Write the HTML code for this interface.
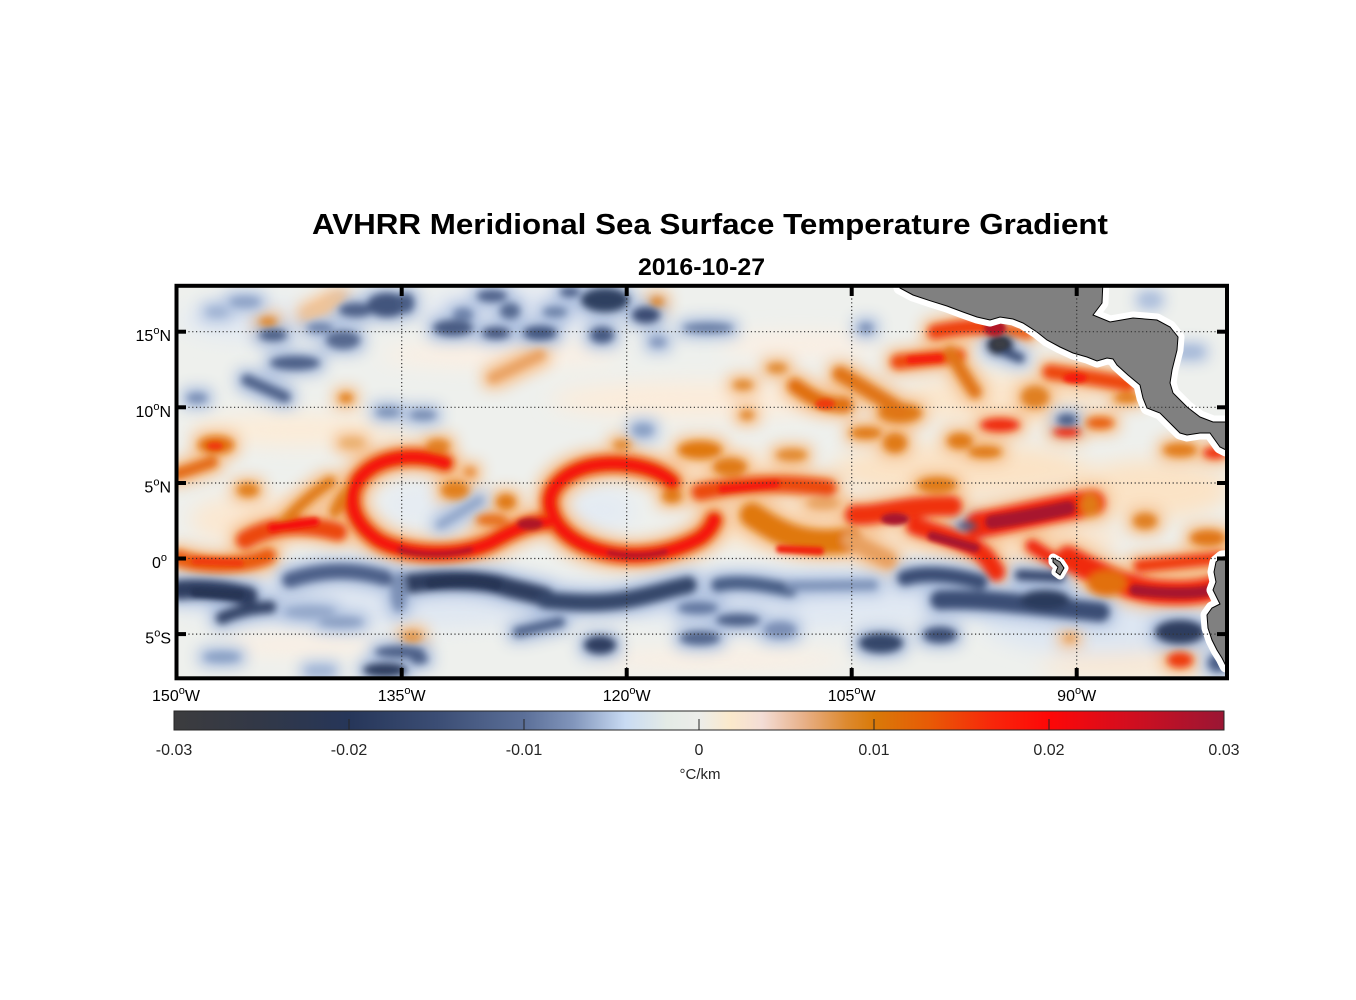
<!DOCTYPE html>
<html><head><meta charset="utf-8"><style>
html,body{margin:0;padding:0;background:#fff;}
svg{display:block;font-family:"Liberation Sans",Arial,sans-serif;}
</style></head><body>
<svg width="1356" height="1000" viewBox="0 0 1356 1000" xmlns="http://www.w3.org/2000/svg">
<defs>
<clipPath id="mc"><rect x="176.5" y="285.8" width="1050.5" height="392.5"/></clipPath>
<filter id="fp" filterUnits="userSpaceOnUse" x="100" y="220" width="1200" height="520"><feGaussianBlur stdDeviation="10"/></filter>
<filter id="fb3" filterUnits="userSpaceOnUse" x="150" y="260" width="1110" height="450"><feGaussianBlur stdDeviation="3.6"/></filter>
<filter id="fb2" filterUnits="userSpaceOnUse" x="150" y="260" width="1110" height="450"><feGaussianBlur stdDeviation="2"/></filter>
<filter id="hw" filterUnits="userSpaceOnUse" x="150" y="260" width="1110" height="450" color-interpolation-filters="sRGB">
<feMorphology in="SourceAlpha" operator="dilate" radius="6" result="d"/>
<feGaussianBlur in="d" stdDeviation="7" result="b"/>
<feFlood flood-color="#f5c190"/>
<feComposite in2="b" operator="in"/>
</filter>
<filter id="hc" filterUnits="userSpaceOnUse" x="150" y="260" width="1110" height="450" color-interpolation-filters="sRGB">
<feMorphology in="SourceAlpha" operator="dilate" radius="6" result="d"/>
<feGaussianBlur in="d" stdDeviation="7" result="b"/>
<feFlood flood-color="#aec0de"/>
<feComposite in2="b" operator="in"/>
</filter>
<linearGradient id="cb" x1="0" x2="1" y1="0" y2="0">
<stop offset="0" stop-color="#3c3c3e"/>
<stop offset="0.08" stop-color="#323847"/>
<stop offset="0.1667" stop-color="#263659"/>
<stop offset="0.25" stop-color="#3b4d74"/>
<stop offset="0.3333" stop-color="#5b6f98"/>
<stop offset="0.38" stop-color="#8195bb"/>
<stop offset="0.43" stop-color="#c9dbf3"/>
<stop offset="0.47" stop-color="#e4ebe6"/>
<stop offset="0.5" stop-color="#ecedea"/>
<stop offset="0.53" stop-color="#fbe9cb"/>
<stop offset="0.56" stop-color="#f3ddd6"/>
<stop offset="0.6" stop-color="#e8b088"/>
<stop offset="0.64" stop-color="#dd8a30"/>
<stop offset="0.6667" stop-color="#d97a08"/>
<stop offset="0.72" stop-color="#e85a06"/>
<stop offset="0.78" stop-color="#f8260a"/>
<stop offset="0.8333" stop-color="#fe0707"/>
<stop offset="0.9" stop-color="#d80d1c"/>
<stop offset="1" stop-color="#9a1634"/>
</linearGradient>

<g id="warm" fill="none" stroke-linecap="round" stroke-linejoin="round">
<path d="M 178 558 C 200 566, 240 568, 268 556" stroke="#ea5a0c" stroke-width="16"/>
<path d="M 176 474 C 190 470, 200 466, 212 462" stroke="#e46c12" stroke-width="12"/>
<ellipse cx="216" cy="445" rx="18" ry="9" fill="#e2700f"/>
<ellipse cx="248" cy="490" rx="11" ry="7" fill="#e2801e"/>
<path d="M 245 540 C 265 528, 295 520, 338 532" stroke="#ec460a" stroke-width="18"/>
<path d="M 282 524 C 295 510, 310 495, 330 482" stroke="#e07a14" stroke-width="11"/>
<path d="M 445 463 C 415 452, 378 456, 360 478 C 345 498, 352 522, 378 540 C 405 556, 460 558, 492 542 C 510 532, 528 522, 548 522" stroke="#ec4e0a" stroke-width="19"/>
<ellipse cx="455" cy="490" rx="14" ry="9" fill="#e2801c"/>
<ellipse cx="436" cy="446" rx="7" ry="6" fill="#e48a2a"/>
<ellipse cx="470" cy="472" rx="6" ry="5" fill="#e89040"/>
<ellipse cx="506" cy="502" rx="10" ry="8" fill="#e07a18"/>
<ellipse cx="492" cy="520" rx="16" ry="6" fill="#e6701a"/>
<path d="M 335 512 C 340 500, 345 492, 352 488" stroke="#e07a14" stroke-width="11"/>
<path d="M 672 482 C 655 466, 620 460, 590 466 C 565 472, 548 488, 550 505 C 553 528, 575 545, 605 552 C 640 560, 675 552, 700 538 C 708 532, 712 526, 714 520" stroke="#ec4e0a" stroke-width="19"/>
<ellipse cx="672" cy="496" rx="10" ry="7" fill="#e07a18"/>
<ellipse cx="700" cy="450" rx="22" ry="9" fill="#e0780f"/>
<ellipse cx="730" cy="467" rx="17" ry="9" fill="#e07a14"/>
<path d="M 700 492 C 730 486, 770 480, 828 488" stroke="#ec4a0a" stroke-width="17"/>
<ellipse cx="792" cy="455" rx="15" ry="6" fill="#e38a2c"/>
<path d="M 752 515 C 775 530, 800 548, 850 540" stroke="#e0780f" stroke-width="24"/>
<path d="M 850 540 C 865 548, 878 555, 888 560" stroke="#e8a060" stroke-width="16"/>
<ellipse cx="823" cy="503" rx="16" ry="6" fill="#e8a464"/>
<path d="M 855 515 C 880 516, 905 505, 952 506" stroke="#f0300a" stroke-width="20"/>
<path d="M 915 526 C 940 534, 962 540, 978 550 C 988 557, 992 566, 996 572" stroke="#f02a0a" stroke-width="18"/>
<path d="M 978 525 C 1010 520, 1045 510, 1092 503" stroke="#f0280a" stroke-width="26"/>
<path d="M 1032 546 L 1060 564" stroke="#f0280a" stroke-width="13"/>
<path d="M 1068 558 C 1100 575, 1130 590, 1160 592 C 1185 594, 1205 592, 1220 586" stroke="#f02a0a" stroke-width="24"/>
<path d="M 1140 566 L 1220 558" stroke="#f03a08" stroke-width="13"/>
<ellipse cx="1107" cy="583" rx="20" ry="13" fill="#e27010"/>
<ellipse cx="1090" cy="505" rx="10" ry="12" fill="#e07a18"/>
<ellipse cx="1145" cy="521" rx="12" ry="8" fill="#e08020"/>
<ellipse cx="1208" cy="538" rx="18" ry="8" fill="#e07616"/>
<path d="M 935 332 C 955 328, 975 325, 995 328" stroke="#ee400a" stroke-width="15"/>
<path d="M 1008 330 L 1028 334" stroke="#ee5a0a" stroke-width="10"/>
<path d="M 898 362 C 915 360, 935 358, 958 356" stroke="#ee4a0a" stroke-width="15"/>
<path d="M 950 352 C 958 365, 965 378, 975 392" stroke="#e07412" stroke-width="13"/>
<ellipse cx="900" cy="413" rx="22" ry="10" fill="#e07a18"/>
<path d="M 1050 372 C 1070 375, 1090 377, 1128 384" stroke="#ee460a" stroke-width="15"/>
<ellipse cx="1035" cy="397" rx="14" ry="11" fill="#e08020"/>
<ellipse cx="1000" cy="425" rx="20" ry="7" fill="#f02a08"/>
<ellipse cx="1067" cy="432" rx="14" ry="5" fill="#f02a08"/>
<ellipse cx="1100" cy="423" rx="14" ry="6" fill="#e8600e"/>
<ellipse cx="1127" cy="398" rx="13" ry="5" fill="#e07a18"/>
<ellipse cx="960" cy="441" rx="13" ry="8" fill="#e07a18"/>
<ellipse cx="985" cy="452" rx="17" ry="6" fill="#e07a18"/>
<ellipse cx="1180" cy="450" rx="17" ry="7" fill="#e27e1e"/>
<ellipse cx="1215" cy="453" rx="12" ry="6" fill="#f03008"/>
<ellipse cx="866" cy="433" rx="16" ry="6" fill="#e07a18"/>
<ellipse cx="895" cy="443" rx="12" ry="10" fill="#e07a18"/>
<ellipse cx="937" cy="485" rx="20" ry="8" fill="#e07a18"/>
<path d="M 493 378 C 510 370, 525 362, 540 355" stroke="#e9a264" stroke-width="10"/>
<ellipse cx="743" cy="385" rx="10" ry="5" fill="#e08a30"/>
<ellipse cx="777" cy="368" rx="10" ry="5" fill="#e08a30"/>
<path d="M 795 386 C 808 395, 820 405, 845 405" stroke="#e06e10" stroke-width="15"/>
<path d="M 840 374 C 860 385, 880 398, 900 410" stroke="#e07412" stroke-width="15"/>
<ellipse cx="747" cy="415" rx="7" ry="5" fill="#e28a30"/>
<ellipse cx="438" cy="446" rx="12" ry="7" fill="#e28020"/>
<ellipse cx="622" cy="445" rx="9" ry="5" fill="#e28a30"/>
<ellipse cx="788" cy="455" rx="12" ry="5" fill="#e28a30"/>
<ellipse cx="657" cy="302" rx="7" ry="5" fill="#e08a30"/>
<ellipse cx="268" cy="322" rx="9" ry="5" fill="#e08a30"/>
<path d="M 307 315 L 340 298" stroke="#edc49a" stroke-width="8"/>
<ellipse cx="346" cy="398" rx="7" ry="5" fill="#e2801a"/>
<ellipse cx="352" cy="443" rx="12" ry="5" fill="#eab070"/>
<ellipse cx="412" cy="637" rx="10" ry="6" fill="#e29a50"/>
<ellipse cx="1180" cy="660" rx="13" ry="8" fill="#ee3a08"/>
<ellipse cx="1070" cy="638" rx="6" ry="4" fill="#e2a060"/>
</g>

<g id="cool" fill="none" stroke-linecap="round" stroke-linejoin="round">
<ellipse cx="245" cy="302" rx="15" ry="5" fill="#8ea3c6"/>
<ellipse cx="217" cy="312" rx="10" ry="4" fill="#a0b3d2"/>
<ellipse cx="273" cy="335" rx="14" ry="6" fill="#4b5e86"/>
<ellipse cx="320" cy="328" rx="13" ry="5" fill="#6f84ab"/>
<ellipse cx="343" cy="340" rx="17" ry="9" fill="#56698f"/>
<ellipse cx="356" cy="310" rx="17" ry="7" fill="#4f6289"/>
<ellipse cx="387" cy="305" rx="20" ry="12" fill="#42557d"/>
<ellipse cx="295" cy="363" rx="25" ry="7" fill="#4d6088"/>
<path d="M 247 380 L 285 397" stroke="#4f6289" stroke-width="11"/>
<ellipse cx="197" cy="398" rx="10" ry="5" fill="#7a8fb5"/>
<ellipse cx="388" cy="412" rx="12" ry="5" fill="#7f94b8"/>
<ellipse cx="406" cy="303" rx="8" ry="10" fill="#4a5d85"/>
<ellipse cx="492" cy="296" rx="15" ry="6" fill="#4f628a"/>
<ellipse cx="510" cy="311" rx="10" ry="8" fill="#566a91"/>
<ellipse cx="453" cy="328" rx="20" ry="8" fill="#485b83"/>
<ellipse cx="463" cy="315" rx="10" ry="7" fill="#6e83aa"/>
<ellipse cx="496" cy="333" rx="14" ry="6" fill="#465980"/>
<ellipse cx="540" cy="333" rx="17" ry="7" fill="#435780"/>
<ellipse cx="555" cy="312" rx="12" ry="5" fill="#6d82a8"/>
<ellipse cx="570" cy="292" rx="10" ry="5" fill="#4f628a"/>
<ellipse cx="605" cy="300" rx="24" ry="12" fill="#2f3f60"/>
<ellipse cx="602" cy="335" rx="12" ry="8" fill="#465a82"/>
<ellipse cx="646" cy="315" rx="14" ry="8" fill="#3a4c72"/>
<ellipse cx="708" cy="328" rx="25" ry="5" fill="#6a7fa5"/>
<ellipse cx="658" cy="342" rx="8" ry="5" fill="#8699bd"/>
<ellipse cx="866" cy="328" rx="7" ry="5" fill="#7f93b8"/>
<ellipse cx="423" cy="415" rx="13" ry="5" fill="#7a8fb4"/>
<ellipse cx="643" cy="430" rx="10" ry="6" fill="#8aa0c4"/>
<ellipse cx="1000" cy="345" rx="13" ry="10" fill="#2a3042"/>
<path d="M 1005 352 L 1020 358" stroke="#3b4d75" stroke-width="9"/>
<ellipse cx="1067" cy="420" rx="10" ry="6" fill="#4b5f87"/>
<ellipse cx="967" cy="526" rx="10" ry="4" fill="#4b5f87"/>
<path d="M 440 525 L 480 500" stroke="#8aa0c4" stroke-width="6"/>
<ellipse cx="1190" cy="352" rx="12" ry="4" fill="#a9bbd8"/>
<ellipse cx="1150" cy="300" rx="8" ry="4" fill="#b0c1dc"/>
<path d="M 178 590 C 200 588, 225 590, 248 596" stroke="#2f3e61" stroke-width="19"/>
<path d="M 290 580 C 320 570, 350 568, 385 578" stroke="#4d6189" stroke-width="15"/>
<path d="M 222 618 C 235 612, 250 608, 270 607" stroke="#344568" stroke-width="12"/>
<path d="M 400 585 C 430 580, 470 578, 500 585 C 515 590, 530 592, 545 597" stroke="#2e3d5f" stroke-width="19"/>
<path d="M 545 600 C 575 603, 600 604, 625 600 C 645 597, 665 590, 688 585" stroke="#34466b" stroke-width="17"/>
<path d="M 718 585 C 740 580, 765 585, 790 590" stroke="#4a5e86" stroke-width="13"/>
<path d="M 790 586 L 873 585" stroke="#7d92b7" stroke-width="9"/>
<path d="M 905 578 C 925 572, 950 574, 980 582" stroke="#3b4d74" stroke-width="15"/>
<path d="M 940 600 C 980 598, 1030 605, 1100 612" stroke="#3b4d74" stroke-width="19"/>
<ellipse cx="1045" cy="600" rx="25" ry="10" fill="#2c3a5c"/>
<path d="M 1020 575 L 1060 577" stroke="#34456a" stroke-width="10"/>
<ellipse cx="1180" cy="632" rx="25" ry="12" fill="#2f3d5e"/>
<ellipse cx="1218" cy="663" rx="10" ry="9" fill="#4b5f87"/>
<path d="M 518 632 L 560 622" stroke="#50648b" stroke-width="10"/>
<ellipse cx="600" cy="645" rx="16" ry="9" fill="#2f3e60"/>
<ellipse cx="400" cy="652" rx="25" ry="6" fill="#4d6188"/>
<ellipse cx="385" cy="670" rx="22" ry="7" fill="#2d3c5e"/>
<ellipse cx="419" cy="659" rx="9" ry="5" fill="#4d6188"/>
<ellipse cx="698" cy="608" rx="20" ry="6" fill="#6378a0"/>
<ellipse cx="738" cy="620" rx="22" ry="6" fill="#4c5f86"/>
<ellipse cx="700" cy="638" rx="20" ry="7" fill="#52668d"/>
<ellipse cx="780" cy="630" rx="16" ry="8" fill="#7b8fb5"/>
<ellipse cx="881" cy="643" rx="22" ry="10" fill="#34466b"/>
<ellipse cx="940" cy="635" rx="17" ry="8" fill="#3d4f76"/>
<ellipse cx="399" cy="592" rx="8" ry="20" fill="#7b90b6"/>
<ellipse cx="341" cy="622" rx="22" ry="5" fill="#8ca0c3"/>
<ellipse cx="222" cy="657" rx="18" ry="5" fill="#8aa0c4"/>
<ellipse cx="310" cy="612" rx="25" ry="6" fill="#95a9ca"/>
<ellipse cx="320" cy="671" rx="14" ry="4" fill="#a3b6d4"/>
</g>

<g id="cores" fill="none" stroke-linecap="round" stroke-linejoin="round">
<path d="M 445 463 C 415 452, 378 456, 360 478 C 345 498, 352 522, 378 540 C 405 556, 460 558, 492 542 C 510 532, 528 522, 548 522" stroke="#f5180a" stroke-width="9"/>
<path d="M 672 482 C 655 466, 620 460, 590 466 C 565 472, 548 488, 550 505 C 553 528, 575 545, 605 552 C 640 560, 675 552, 700 538 C 708 532, 712 526, 714 520" stroke="#f5180a" stroke-width="9"/>
<path d="M 272 528 L 315 522" stroke="#f5100a" stroke-width="8"/>
<path d="M 400 550 C 420 556, 450 555, 470 550" stroke="#b81428" stroke-width="6"/>
<ellipse cx="530" cy="524" rx="13" ry="6" fill="#b01428"/>
<path d="M 610 553 C 630 557, 650 556, 665 552" stroke="#b81428" stroke-width="6"/>
<path d="M 722 489 L 776 484" stroke="#f51808" stroke-width="7"/>
<path d="M 780 549 L 820 551" stroke="#f02008" stroke-width="8"/>
<ellipse cx="895" cy="519" rx="14" ry="6" fill="#a8132e"/>
<path d="M 932 536 L 975 548" stroke="#a8132e" stroke-width="9"/>
<path d="M 992 522 C 1020 518, 1045 513, 1068 508" stroke="#a8132e" stroke-width="14"/>
<path d="M 1135 590 C 1165 594, 1195 594, 1212 590" stroke="#a8132e" stroke-width="11"/>
<ellipse cx="995" cy="328" rx="11" ry="8" fill="#b01428"/>
<path d="M 910 360 L 940 358" stroke="#f51a08" stroke-width="7"/>
<ellipse cx="1075" cy="378" rx="12" ry="5" fill="#f51a08"/>
<ellipse cx="825" cy="404" rx="10" ry="5" fill="#ee3a08"/>
<ellipse cx="215" cy="446" rx="8" ry="4" fill="#f03a08"/>
<path d="M 195 561 L 240 563" stroke="#f03a0a" stroke-width="7"/>
<path d="M 195 592 L 240 595" stroke="#263455" stroke-width="9"/>
<path d="M 430 583 C 455 580, 480 580, 497 585" stroke="#263455" stroke-width="9"/>
<ellipse cx="1000" cy="344" rx="8" ry="6" fill="#3a3d45"/>
</g>

<path id="land1" d="M 898 280 L 900 288 L 913 295 L 930 300.7 L 947 306 L 963 312 L 977 317 L 990 320 L 1000 317 L 1013 319 L 1023 323 L 1037 332 L 1047 340 L 1060 347 L 1073 353 L 1087 357 L 1097 361 L 1107 358 L 1113 359 L 1117 365 L 1128 375 L 1140 385 L 1143 398 L 1147 408 L 1160 413 L 1170 423 L 1180 433 L 1187 435 L 1200 433 L 1210 433 L 1215 440 L 1220 447 L 1226 450 L 1235 450 L 1235 421 L 1225 422 L 1213 422 L 1200 417 L 1187 407 L 1173 393 L 1170 383 L 1172 370 L 1177 350 L 1178 337 L 1170 327 L 1157 320 L 1133 318 L 1110 322 L 1093 315 L 1102 303 L 1103 280 Z"/>
<path id="land2" d="M 1235 556 L 1222 557 L 1216 562 L 1214 572 L 1216 582 L 1213 590 L 1217 598 L 1220 604 L 1212 608 L 1207 615 L 1208 628 L 1212 640 L 1217 650 L 1222 658 L 1226 666 L 1235 668 Z"/>
<path id="land3" d="M 1053 558 L 1060 562 L 1064 568 L 1060 575 L 1056 572 L 1058 567 L 1053 562 Z"/>
</defs>

<text x="710" y="234" text-anchor="middle" font-size="29" font-weight="bold" fill="#000" textLength="796" lengthAdjust="spacingAndGlyphs">AVHRR Meridional Sea Surface Temperature Gradient</text>
<text x="701.5" y="275" text-anchor="middle" font-size="24" font-weight="bold" fill="#000" textLength="127" lengthAdjust="spacingAndGlyphs">2016-10-27</text>

<g clip-path="url(#mc)">
<rect x="170" y="280" width="1065" height="405" fill="#eef0ed"/>
<g filter="url(#fp)">
<ellipse cx="300" cy="430" rx="110" ry="16" fill="#fcecd8"/>
<ellipse cx="700" cy="400" rx="150" ry="18" fill="#fcecda"/>
<ellipse cx="960" cy="470" rx="130" ry="28" fill="#fbe3c6"/>
<ellipse cx="1150" cy="490" rx="80" ry="30" fill="#fbe3c6"/>
<ellipse cx="1000" cy="540" rx="120" ry="20" fill="#fbe4ca"/>
<ellipse cx="800" cy="525" rx="100" ry="25" fill="#fbe6cc"/>
<ellipse cx="720" cy="470" rx="80" ry="18" fill="#fbe8d2"/>
<ellipse cx="500" cy="355" rx="120" ry="12" fill="#fcefe2"/>
<ellipse cx="800" cy="345" rx="80" ry="12" fill="#fcefe2"/>
<ellipse cx="300" cy="645" rx="80" ry="10" fill="#fcefe2"/>
<ellipse cx="720" cy="660" rx="130" ry="10" fill="#fcefe2"/>
<ellipse cx="1120" cy="665" rx="80" ry="12" fill="#fbe8d2"/>
<ellipse cx="1000" cy="400" rx="100" ry="25" fill="#fbe6cc"/>
<ellipse cx="250" cy="520" rx="60" ry="25" fill="#fbe8d2"/>
<ellipse cx="400" cy="600" rx="230" ry="28" fill="#dfe7f2"/>
<ellipse cx="800" cy="600" rx="200" ry="30" fill="#e0e8f3"/>
<ellipse cx="1100" cy="620" rx="120" ry="35" fill="#dde6f2"/>
<ellipse cx="250" cy="320" rx="70" ry="20" fill="#e2e9f3"/>
<ellipse cx="600" cy="510" rx="35" ry="22" fill="#e4ebf3"/>
<ellipse cx="420" cy="505" rx="40" ry="25" fill="#e6ecf2"/>
<ellipse cx="520" cy="310" rx="100" ry="25" fill="#e3e9f3"/>
</g>
<use href="#warm" filter="url(#hw)"/>
<use href="#cool" filter="url(#hc)"/>
<use href="#warm" filter="url(#fb3)"/>
<use href="#cool" filter="url(#fb3)"/>
<use href="#cores" filter="url(#fb2)"/>

<use href="#land1" fill="#fff" stroke="#fff" stroke-width="13" stroke-linejoin="round"/>
<use href="#land2" fill="#fff" stroke="#fff" stroke-width="13" stroke-linejoin="round"/>
<use href="#land3" fill="#fff" stroke="#fff" stroke-width="9" stroke-linejoin="round"/>
<use href="#land1" fill="#808080" stroke="#000" stroke-width="1"/>
<use href="#land2" fill="#808080" stroke="#000" stroke-width="1"/>
<use href="#land3" fill="#808080" stroke="#000" stroke-width="1"/>
</g>

<g stroke="#333" stroke-width="1.2" stroke-dasharray="1.2 2.6" fill="none">
<line x1="177" y1="331.7" x2="1226" y2="331.7"/>
<line x1="177" y1="407.3" x2="1226" y2="407.3"/>
<line x1="177" y1="483" x2="1226" y2="483"/>
<line x1="177" y1="558.5" x2="1226" y2="558.5"/>
<line x1="177" y1="634.1" x2="1226" y2="634.1"/>
<line x1="401.7" y1="287" x2="401.7" y2="677"/>
<line x1="626.7" y1="287" x2="626.7" y2="677"/>
<line x1="851.7" y1="287" x2="851.7" y2="677"/>
<line x1="1076.7" y1="287" x2="1076.7" y2="677"/>
</g>

<rect x="176.5" y="285.8" width="1050.5" height="392.5" fill="none" stroke="#000" stroke-width="4"/>
<g stroke="#000" stroke-width="4">
<line x1="176" y1="331.7" x2="186" y2="331.7"/>
<line x1="176" y1="407.3" x2="186" y2="407.3"/>
<line x1="176" y1="483" x2="186" y2="483"/>
<line x1="176" y1="558.5" x2="186" y2="558.5"/>
<line x1="176" y1="634.1" x2="186" y2="634.1"/>
<line x1="1217" y1="331.7" x2="1227" y2="331.7"/>
<line x1="1217" y1="407.3" x2="1227" y2="407.3"/>
<line x1="1217" y1="483" x2="1227" y2="483"/>
<line x1="1217" y1="558.5" x2="1227" y2="558.5"/>
<line x1="1217" y1="634.1" x2="1227" y2="634.1"/>
<line x1="401.7" y1="286" x2="401.7" y2="296"/>
<line x1="626.7" y1="286" x2="626.7" y2="296"/>
<line x1="851.7" y1="286" x2="851.7" y2="296"/>
<line x1="1076.7" y1="286" x2="1076.7" y2="296"/>
<line x1="401.7" y1="668" x2="401.7" y2="678"/>
<line x1="626.7" y1="668" x2="626.7" y2="678"/>
<line x1="851.7" y1="668" x2="851.7" y2="678"/>
<line x1="1076.7" y1="668" x2="1076.7" y2="678"/>
</g>

<g font-size="16" fill="#000">
<text x="171" y="341.2" text-anchor="end">15<tspan font-size="11" dy="-7">o</tspan><tspan dy="7">N</tspan></text>
<text x="171" y="416.8" text-anchor="end">10<tspan font-size="11" dy="-7">o</tspan><tspan dy="7">N</tspan></text>
<text x="171" y="492.5" text-anchor="end">5<tspan font-size="11" dy="-7">o</tspan><tspan dy="7">N</tspan></text>
<text x="167" y="568" text-anchor="end">0<tspan font-size="11" dy="-7">o</tspan></text>
<text x="171" y="643.6" text-anchor="end">5<tspan font-size="11" dy="-7">o</tspan><tspan dy="7">S</tspan></text>
<text x="176" y="701" text-anchor="middle">150<tspan font-size="11" dy="-7">o</tspan><tspan dy="7">W</tspan></text>
<text x="401.7" y="701" text-anchor="middle">135<tspan font-size="11" dy="-7">o</tspan><tspan dy="7">W</tspan></text>
<text x="626.7" y="701" text-anchor="middle">120<tspan font-size="11" dy="-7">o</tspan><tspan dy="7">W</tspan></text>
<text x="851.7" y="701" text-anchor="middle">105<tspan font-size="11" dy="-7">o</tspan><tspan dy="7">W</tspan></text>
<text x="1076.7" y="701" text-anchor="middle">90<tspan font-size="11" dy="-7">o</tspan><tspan dy="7">W</tspan></text>
</g>

<rect x="174" y="711" width="1050" height="19" fill="url(#cb)" stroke="#262626" stroke-width="1"/>
<g stroke="#262626" stroke-width="1">
<line x1="349" y1="719" x2="349" y2="730"/>
<line x1="524" y1="719" x2="524" y2="730"/>
<line x1="699" y1="719" x2="699" y2="730"/>
<line x1="874" y1="719" x2="874" y2="730"/>
<line x1="1049" y1="719" x2="1049" y2="730"/>
</g>
<g font-size="16" fill="#262626" text-anchor="middle">
<text x="174" y="755">-0.03</text>
<text x="349" y="755">-0.02</text>
<text x="524" y="755">-0.01</text>
<text x="699" y="755">0</text>
<text x="874" y="755">0.01</text>
<text x="1049" y="755">0.02</text>
<text x="1224" y="755">0.03</text>
<text x="700" y="779" font-size="15">°C/km</text>
</g>
</svg>
</body></html>
